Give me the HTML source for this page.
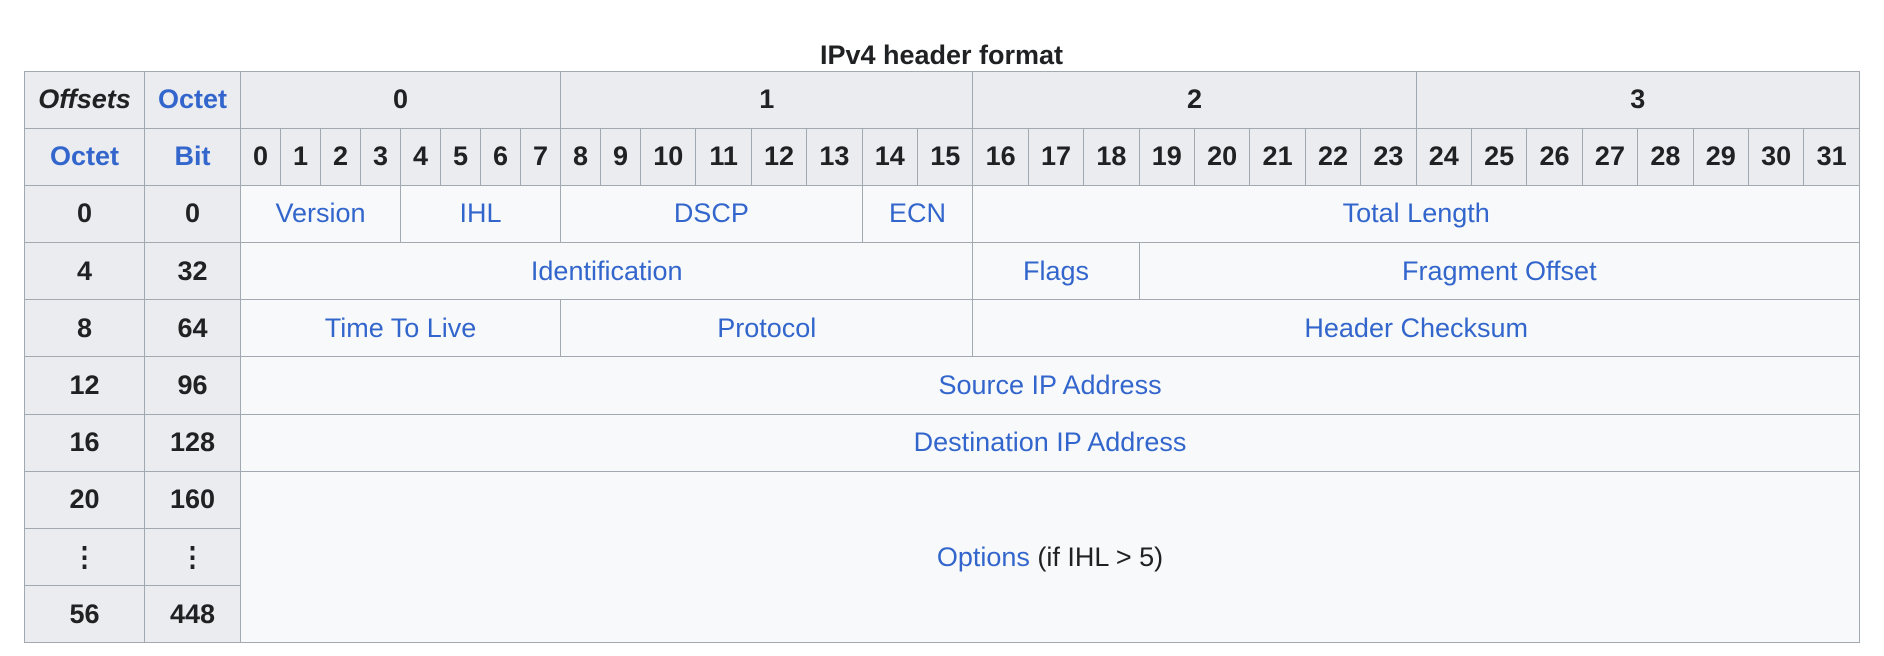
<!DOCTYPE html>
<html><head><meta charset="utf-8"><style>
html,body{margin:0;padding:0;background:#fff;width:1884px;height:656px;overflow:hidden}
body{font-family:"Liberation Sans",Arial,sans-serif;color:#202122}
.cap{position:absolute;left:24px;width:1835px;top:38px;text-align:center;font-weight:bold;font-size:27px;line-height:34px}
table{position:absolute;left:24px;top:71px;width:1836px;border-collapse:collapse;table-layout:fixed;font-size:27px}
td,th{border:1.4px solid #a2a9b1;padding:0;text-align:center;background:#f8f9fa;white-space:nowrap;overflow:hidden}
th{background:#eaecf0;font-weight:bold}
tr{height:57.2px}
a{color:#3366cc;text-decoration:none}
</style></head><body>
<div class="cap">IPv4 header format</div>
<table>
<colgroup><col style="width:120px"><col style="width:96px">
<col style="width:40px"><col style="width:40px"><col style="width:40px"><col style="width:40px"><col style="width:40px"><col style="width:40px"><col style="width:40px"><col style="width:40px"><col style="width:40px"><col style="width:40px">
<col style="width:55.4px"><col style="width:55.4px"><col style="width:55.4px"><col style="width:55.4px"><col style="width:55.4px"><col style="width:55.4px"><col style="width:55.4px"><col style="width:55.4px"><col style="width:55.4px"><col style="width:55.4px"><col style="width:55.4px"><col style="width:55.4px"><col style="width:55.4px"><col style="width:55.4px"><col style="width:55.4px"><col style="width:55.4px"><col style="width:55.4px"><col style="width:55.4px"><col style="width:55.4px"><col style="width:55.4px"><col style="width:55.4px"><col style="width:55.4px">
</colgroup>
<tr style="height:56.6px"><th><i>Offsets</i></th><th><a>Octet</a></th><th colspan="8">0</th><th colspan="8">1</th><th colspan="8">2</th><th colspan="8">3</th></tr>
<tr><th><a>Octet</a></th><th><a>Bit</a></th>
<th>0</th><th>1</th><th>2</th><th>3</th><th>4</th><th>5</th><th>6</th><th>7</th><th>8</th><th>9</th><th>10</th><th>11</th><th>12</th><th>13</th><th>14</th><th>15</th><th>16</th><th>17</th><th>18</th><th>19</th><th>20</th><th>21</th><th>22</th><th>23</th><th>24</th><th>25</th><th>26</th><th>27</th><th>28</th><th>29</th><th>30</th><th>31</th></tr>
<tr><th>0</th><th>0</th><td colspan="4"><a>Version</a></td><td colspan="4"><a>IHL</a></td><td colspan="6"><a>DSCP</a></td><td colspan="2"><a>ECN</a></td><td colspan="16"><a>Total Length</a></td></tr>
<tr><th>4</th><th>32</th><td colspan="16"><a>Identification</a></td><td colspan="3"><a>Flags</a></td><td colspan="13"><a>Fragment Offset</a></td></tr>
<tr><th>8</th><th>64</th><td colspan="8"><a>Time To Live</a></td><td colspan="8"><a>Protocol</a></td><td colspan="16"><a>Header Checksum</a></td></tr>
<tr><th>12</th><th>96</th><td colspan="32"><a>Source IP Address</a></td></tr>
<tr><th>16</th><th>128</th><td colspan="32"><a>Destination IP Address</a></td></tr>
<tr><th>20</th><th>160</th><td colspan="32" rowspan="3"><a>Options</a> (if IHL &gt; 5)</td></tr>
<tr><th>⋮</th><th>⋮</th></tr>
<tr><th>56</th><th>448</th></tr>
</table>
</body></html>
